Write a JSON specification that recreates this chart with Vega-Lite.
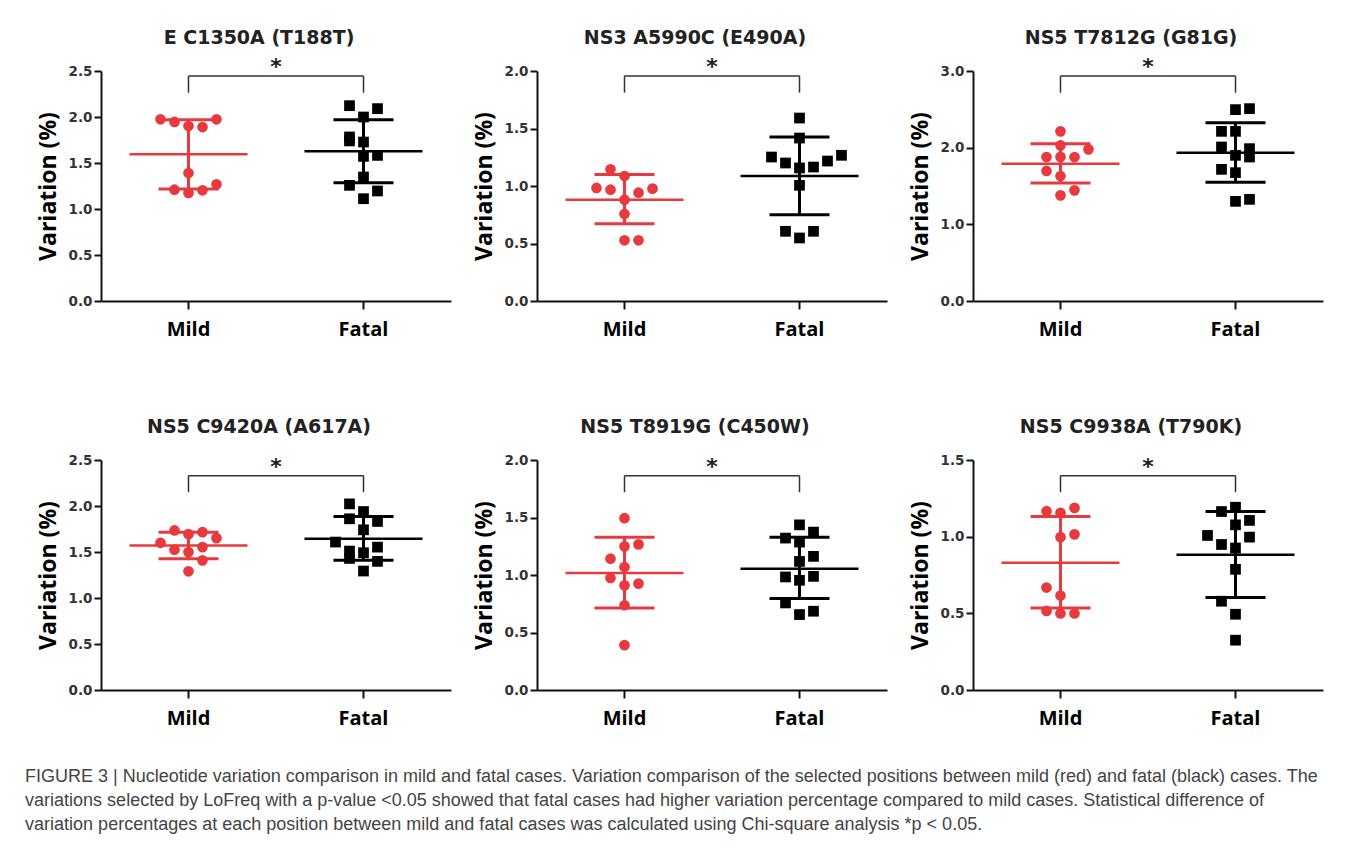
{
  "$schema": "https://vega.github.io/schema/vega-lite/v6.json",
  "background": "white",
  "padding": {"left": 25, "top": 28, "right": 5, "bottom": 5},
  "config": {
    "view": {"stroke": null},
    "axis": {"grid": false, "domainColor": "#111", "domainWidth": 2, "tickColor": "#111", "tickWidth": 2, "labelFont": "DejaVu Sans", "labelFontWeight": "bold", "labelFontSize": 13.5, "labelColor": "#333"},
    "axisX": {"labelFont": "Open Sans", "labelFontSize": 20, "labelColor": "#000", "tickSize": 8, "labelPadding": 10, "labelAngle": 0},
    "axisY": {"tickSize": 7, "labelPadding": 2, "titleFont": "Open Sans", "titleFontSize": 23, "titleFontWeight": "bold", "titleColor": "#000", "titlePadding": 8},
    "title": {"font": "DejaVu Sans", "fontSize": 19, "fontWeight": "bold", "color": "#222", "offset": 12, "dx": -17, "anchor": "middle", "frame": "group"}
  },
  "datasets": {
    "points": [
      {"site": "E C1350A (T188T)", "group": "Mild", "slot": -2, "value": 1.975},
      {"site": "E C1350A (T188T)", "group": "Mild", "slot": -1, "value": 1.946},
      {"site": "E C1350A (T188T)", "group": "Mild", "slot": 0, "value": 1.902},
      {"site": "E C1350A (T188T)", "group": "Mild", "slot": 1, "value": 1.891},
      {"site": "E C1350A (T188T)", "group": "Mild", "slot": 2, "value": 1.975},
      {"site": "E C1350A (T188T)", "group": "Mild", "slot": 0, "value": 1.391},
      {"site": "E C1350A (T188T)", "group": "Mild", "slot": 2, "value": 1.268},
      {"site": "E C1350A (T188T)", "group": "Mild", "slot": -1, "value": 1.21},
      {"site": "E C1350A (T188T)", "group": "Mild", "slot": 0, "value": 1.174},
      {"site": "E C1350A (T188T)", "group": "Mild", "slot": 1, "value": 1.203},
      {"site": "E C1350A (T188T)", "group": "Fatal", "slot": -1, "value": 2.123},
      {"site": "E C1350A (T188T)", "group": "Fatal", "slot": 1, "value": 2.091},
      {"site": "E C1350A (T188T)", "group": "Fatal", "slot": 0, "value": 2.0},
      {"site": "E C1350A (T188T)", "group": "Fatal", "slot": -1, "value": 1.783},
      {"site": "E C1350A (T188T)", "group": "Fatal", "slot": -1, "value": 1.74},
      {"site": "E C1350A (T188T)", "group": "Fatal", "slot": 0, "value": 1.728},
      {"site": "E C1350A (T188T)", "group": "Fatal", "slot": 0, "value": 1.572},
      {"site": "E C1350A (T188T)", "group": "Fatal", "slot": 1, "value": 1.583},
      {"site": "E C1350A (T188T)", "group": "Fatal", "slot": 0, "value": 1.348},
      {"site": "E C1350A (T188T)", "group": "Fatal", "slot": -1, "value": 1.257},
      {"site": "E C1350A (T188T)", "group": "Fatal", "slot": 1, "value": 1.196},
      {"site": "E C1350A (T188T)", "group": "Fatal", "slot": 0, "value": 1.112},
      {"site": "NS3 A5990C (E490A)", "group": "Mild", "slot": -1, "value": 1.145},
      {"site": "NS3 A5990C (E490A)", "group": "Mild", "slot": 0, "value": 1.087},
      {"site": "NS3 A5990C (E490A)", "group": "Mild", "slot": -2, "value": 0.983},
      {"site": "NS3 A5990C (E490A)", "group": "Mild", "slot": -1, "value": 0.968},
      {"site": "NS3 A5990C (E490A)", "group": "Mild", "slot": 0, "value": 0.881},
      {"site": "NS3 A5990C (E490A)", "group": "Mild", "slot": 1, "value": 0.942},
      {"site": "NS3 A5990C (E490A)", "group": "Mild", "slot": 2, "value": 0.977},
      {"site": "NS3 A5990C (E490A)", "group": "Mild", "slot": 0, "value": 0.757},
      {"site": "NS3 A5990C (E490A)", "group": "Mild", "slot": 0, "value": 0.528},
      {"site": "NS3 A5990C (E490A)", "group": "Mild", "slot": 1, "value": 0.528},
      {"site": "NS3 A5990C (E490A)", "group": "Fatal", "slot": 0, "value": 1.591},
      {"site": "NS3 A5990C (E490A)", "group": "Fatal", "slot": 0, "value": 1.417},
      {"site": "NS3 A5990C (E490A)", "group": "Fatal", "slot": -2, "value": 1.252},
      {"site": "NS3 A5990C (E490A)", "group": "Fatal", "slot": -1, "value": 1.2},
      {"site": "NS3 A5990C (E490A)", "group": "Fatal", "slot": 0, "value": 1.157},
      {"site": "NS3 A5990C (E490A)", "group": "Fatal", "slot": 1, "value": 1.165},
      {"site": "NS3 A5990C (E490A)", "group": "Fatal", "slot": 2, "value": 1.217},
      {"site": "NS3 A5990C (E490A)", "group": "Fatal", "slot": 3, "value": 1.267},
      {"site": "NS3 A5990C (E490A)", "group": "Fatal", "slot": 0, "value": 1.006},
      {"site": "NS3 A5990C (E490A)", "group": "Fatal", "slot": -1, "value": 0.606},
      {"site": "NS3 A5990C (E490A)", "group": "Fatal", "slot": 0, "value": 0.548},
      {"site": "NS3 A5990C (E490A)", "group": "Fatal", "slot": 1, "value": 0.606},
      {"site": "NS5 T7812G (G81G)", "group": "Mild", "slot": 0, "value": 2.213},
      {"site": "NS5 T7812G (G81G)", "group": "Mild", "slot": 2, "value": 1.978},
      {"site": "NS5 T7812G (G81G)", "group": "Mild", "slot": -1, "value": 1.878},
      {"site": "NS5 T7812G (G81G)", "group": "Mild", "slot": 1, "value": 1.878},
      {"site": "NS5 T7812G (G81G)", "group": "Mild", "slot": 0, "value": 2.03},
      {"site": "NS5 T7812G (G81G)", "group": "Mild", "slot": 0, "value": 1.88},
      {"site": "NS5 T7812G (G81G)", "group": "Mild", "slot": -1, "value": 1.696},
      {"site": "NS5 T7812G (G81G)", "group": "Mild", "slot": 0, "value": 1.63},
      {"site": "NS5 T7812G (G81G)", "group": "Mild", "slot": 1, "value": 1.443},
      {"site": "NS5 T7812G (G81G)", "group": "Mild", "slot": 0, "value": 1.378},
      {"site": "NS5 T7812G (G81G)", "group": "Fatal", "slot": 0, "value": 2.496},
      {"site": "NS5 T7812G (G81G)", "group": "Fatal", "slot": 1, "value": 2.509},
      {"site": "NS5 T7812G (G81G)", "group": "Fatal", "slot": -1, "value": 2.213},
      {"site": "NS5 T7812G (G81G)", "group": "Fatal", "slot": 0, "value": 2.213},
      {"site": "NS5 T7812G (G81G)", "group": "Fatal", "slot": -1, "value": 2.009},
      {"site": "NS5 T7812G (G81G)", "group": "Fatal", "slot": 1, "value": 1.987},
      {"site": "NS5 T7812G (G81G)", "group": "Fatal", "slot": 1, "value": 1.878},
      {"site": "NS5 T7812G (G81G)", "group": "Fatal", "slot": 0, "value": 1.9},
      {"site": "NS5 T7812G (G81G)", "group": "Fatal", "slot": -1, "value": 1.717},
      {"site": "NS5 T7812G (G81G)", "group": "Fatal", "slot": 0, "value": 1.674},
      {"site": "NS5 T7812G (G81G)", "group": "Fatal", "slot": 0, "value": 1.3},
      {"site": "NS5 T7812G (G81G)", "group": "Fatal", "slot": 1, "value": 1.326},
      {"site": "NS5 C9420A (A617A)", "group": "Mild", "slot": -1, "value": 1.734},
      {"site": "NS5 C9420A (A617A)", "group": "Mild", "slot": 1, "value": 1.716},
      {"site": "NS5 C9420A (A617A)", "group": "Mild", "slot": 0, "value": 1.694},
      {"site": "NS5 C9420A (A617A)", "group": "Mild", "slot": 2, "value": 1.651},
      {"site": "NS5 C9420A (A617A)", "group": "Mild", "slot": -2, "value": 1.6},
      {"site": "NS5 C9420A (A617A)", "group": "Mild", "slot": 1, "value": 1.553},
      {"site": "NS5 C9420A (A617A)", "group": "Mild", "slot": -1, "value": 1.525},
      {"site": "NS5 C9420A (A617A)", "group": "Mild", "slot": 0, "value": 1.499},
      {"site": "NS5 C9420A (A617A)", "group": "Mild", "slot": 1, "value": 1.409},
      {"site": "NS5 C9420A (A617A)", "group": "Mild", "slot": 0, "value": 1.29},
      {"site": "NS5 C9420A (A617A)", "group": "Fatal", "slot": -1, "value": 2.023},
      {"site": "NS5 C9420A (A617A)", "group": "Fatal", "slot": 0, "value": 1.94},
      {"site": "NS5 C9420A (A617A)", "group": "Fatal", "slot": 1, "value": 1.832},
      {"site": "NS5 C9420A (A617A)", "group": "Fatal", "slot": -1, "value": 1.861},
      {"site": "NS5 C9420A (A617A)", "group": "Fatal", "slot": 0, "value": 1.741},
      {"site": "NS5 C9420A (A617A)", "group": "Fatal", "slot": -2, "value": 1.608},
      {"site": "NS5 C9420A (A617A)", "group": "Fatal", "slot": 1, "value": 1.553},
      {"site": "NS5 C9420A (A617A)", "group": "Fatal", "slot": -1, "value": 1.51},
      {"site": "NS5 C9420A (A617A)", "group": "Fatal", "slot": 0, "value": 1.492},
      {"site": "NS5 C9420A (A617A)", "group": "Fatal", "slot": -1, "value": 1.43},
      {"site": "NS5 C9420A (A617A)", "group": "Fatal", "slot": 1, "value": 1.398},
      {"site": "NS5 C9420A (A617A)", "group": "Fatal", "slot": 0, "value": 1.293},
      {"site": "NS5 T8919G (C450W)", "group": "Mild", "slot": 0, "value": 1.494},
      {"site": "NS5 T8919G (C450W)", "group": "Mild", "slot": 1, "value": 1.266},
      {"site": "NS5 T8919G (C450W)", "group": "Mild", "slot": 0, "value": 1.249},
      {"site": "NS5 T8919G (C450W)", "group": "Mild", "slot": -1, "value": 1.142},
      {"site": "NS5 T8919G (C450W)", "group": "Mild", "slot": 0, "value": 1.069},
      {"site": "NS5 T8919G (C450W)", "group": "Mild", "slot": -1, "value": 0.974},
      {"site": "NS5 T8919G (C450W)", "group": "Mild", "slot": 0, "value": 0.91},
      {"site": "NS5 T8919G (C450W)", "group": "Mild", "slot": 1, "value": 0.925},
      {"site": "NS5 T8919G (C450W)", "group": "Mild", "slot": 0, "value": 0.737},
      {"site": "NS5 T8919G (C450W)", "group": "Mild", "slot": 0, "value": 0.39},
      {"site": "NS5 T8919G (C450W)", "group": "Fatal", "slot": 0, "value": 1.436},
      {"site": "NS5 T8919G (C450W)", "group": "Fatal", "slot": 1, "value": 1.373},
      {"site": "NS5 T8919G (C450W)", "group": "Fatal", "slot": -1, "value": 1.321},
      {"site": "NS5 T8919G (C450W)", "group": "Fatal", "slot": 0, "value": 1.286},
      {"site": "NS5 T8919G (C450W)", "group": "Fatal", "slot": 1, "value": 1.162},
      {"site": "NS5 T8919G (C450W)", "group": "Fatal", "slot": 0, "value": 1.118},
      {"site": "NS5 T8919G (C450W)", "group": "Fatal", "slot": -1, "value": 0.983},
      {"site": "NS5 T8919G (C450W)", "group": "Fatal", "slot": 1, "value": 0.988},
      {"site": "NS5 T8919G (C450W)", "group": "Fatal", "slot": 0, "value": 0.954},
      {"site": "NS5 T8919G (C450W)", "group": "Fatal", "slot": -1, "value": 0.757},
      {"site": "NS5 T8919G (C450W)", "group": "Fatal", "slot": 0, "value": 0.656},
      {"site": "NS5 T8919G (C450W)", "group": "Fatal", "slot": 1, "value": 0.685},
      {"site": "NS5 C9938A (T790K)", "group": "Mild", "slot": -1, "value": 1.166},
      {"site": "NS5 C9938A (T790K)", "group": "Mild", "slot": 0, "value": 1.155},
      {"site": "NS5 C9938A (T790K)", "group": "Mild", "slot": 1, "value": 1.188},
      {"site": "NS5 C9938A (T790K)", "group": "Mild", "slot": 0, "value": 0.997},
      {"site": "NS5 C9938A (T790K)", "group": "Mild", "slot": 1, "value": 1.015},
      {"site": "NS5 C9938A (T790K)", "group": "Mild", "slot": -1, "value": 0.668},
      {"site": "NS5 C9938A (T790K)", "group": "Mild", "slot": 0, "value": 0.616},
      {"site": "NS5 C9938A (T790K)", "group": "Mild", "slot": -1, "value": 0.516},
      {"site": "NS5 C9938A (T790K)", "group": "Mild", "slot": 0, "value": 0.499},
      {"site": "NS5 C9938A (T790K)", "group": "Mild", "slot": 1, "value": 0.499},
      {"site": "NS5 C9938A (T790K)", "group": "Fatal", "slot": 0, "value": 1.192},
      {"site": "NS5 C9938A (T790K)", "group": "Fatal", "slot": -1, "value": 1.164},
      {"site": "NS5 C9938A (T790K)", "group": "Fatal", "slot": 1, "value": 1.106},
      {"site": "NS5 C9938A (T790K)", "group": "Fatal", "slot": 0, "value": 1.077},
      {"site": "NS5 C9938A (T790K)", "group": "Fatal", "slot": -2, "value": 1.008},
      {"site": "NS5 C9938A (T790K)", "group": "Fatal", "slot": 1, "value": 0.997},
      {"site": "NS5 C9938A (T790K)", "group": "Fatal", "slot": -1, "value": 0.949},
      {"site": "NS5 C9938A (T790K)", "group": "Fatal", "slot": 0, "value": 0.926},
      {"site": "NS5 C9938A (T790K)", "group": "Fatal", "slot": 0, "value": 0.787},
      {"site": "NS5 C9938A (T790K)", "group": "Fatal", "slot": -1, "value": 0.579},
      {"site": "NS5 C9938A (T790K)", "group": "Fatal", "slot": 0, "value": 0.494},
      {"site": "NS5 C9938A (T790K)", "group": "Fatal", "slot": 0, "value": 0.325}
    ],
    "stats": [
      {"site": "E C1350A (T188T)", "group": "Mild", "mean": 1.594, "lo": 1.218, "hi": 1.97},
      {"site": "E C1350A (T188T)", "group": "Fatal", "mean": 1.627, "lo": 1.285, "hi": 1.969},
      {"site": "NS3 A5990C (E490A)", "group": "Mild", "mean": 0.881, "lo": 0.672, "hi": 1.099},
      {"site": "NS3 A5990C (E490A)", "group": "Fatal", "mean": 1.087, "lo": 0.751, "hi": 1.426},
      {"site": "NS5 T7812G (G81G)", "group": "Mild", "mean": 1.791, "lo": 1.539, "hi": 2.052},
      {"site": "NS5 T7812G (G81G)", "group": "Fatal", "mean": 1.935, "lo": 1.548, "hi": 2.326},
      {"site": "NS5 C9420A (A617A)", "group": "Mild", "mean": 1.572, "lo": 1.427, "hi": 1.716},
      {"site": "NS5 C9420A (A617A)", "group": "Fatal", "mean": 1.644, "lo": 1.409, "hi": 1.886},
      {"site": "NS5 T8919G (C450W)", "group": "Mild", "mean": 1.017, "lo": 0.714, "hi": 1.329},
      {"site": "NS5 T8919G (C450W)", "group": "Fatal", "mean": 1.055, "lo": 0.795, "hi": 1.329},
      {"site": "NS5 C9938A (T790K)", "group": "Mild", "mean": 0.83, "lo": 0.535, "hi": 1.132},
      {"site": "NS5 C9938A (T790K)", "group": "Fatal", "mean": 0.882, "lo": 0.603, "hi": 1.164}
    ],
    "brackets": [
      {"site": "E C1350A (T188T)", "a": "Mild", "b": "Fatal", "m": "mid", "top": 2.446, "bot": 2.264, "star": 2.58},
      {"site": "NS3 A5990C (E490A)", "a": "Mild", "b": "Fatal", "m": "mid", "top": 1.957, "bot": 1.812, "star": 2.064},
      {"site": "NS5 T7812G (G81G)", "a": "Mild", "b": "Fatal", "m": "mid", "top": 2.935, "bot": 2.717, "star": 3.096},
      {"site": "NS5 C9420A (A617A)", "a": "Mild", "b": "Fatal", "m": "mid", "top": 2.33, "bot": 2.15, "star": 2.457},
      {"site": "NS5 T8919G (C450W)", "a": "Mild", "b": "Fatal", "m": "mid", "top": 1.864, "bot": 1.72, "star": 1.965},
      {"site": "NS5 C9938A (T790K)", "a": "Mild", "b": "Fatal", "m": "mid", "top": 1.398, "bot": 1.29, "star": 1.474}
    ]
  },
  "title": {
    "text": [
      "FIGURE 3 | Nucleotide variation comparison in mild and fatal cases. Variation comparison of the selected positions between mild (red) and fatal (black) cases. The",
      "variations selected by LoFreq with a p-value <0.05 showed that fatal cases had higher variation percentage compared to mild cases. Statistical difference of",
      "variation percentages at each position between mild and fatal cases was calculated using Chi-square analysis *p < 0.05."
    ],
    "orient": "bottom", "anchor": "start", "frame": "bounds", "dx": -12, "offset": 40,
    "font": "Liberation Sans", "fontSize": 18, "fontWeight": "normal", "color": "#444", "lineHeight": 24, "align": "left"
  },
  "concat": [
    {
      "width": 350, "height": 230,
      "title": {"text": "E C1350A (T188T)", "offset": 8},
      "layer": [
        {"data": {"name": "brackets"}, "transform": [{"filter": {"field": "site", "equal": "E C1350A (T188T)"}}], "mark": {"type": "rule", "color": "#333", "strokeWidth": 1.5},
         "encoding": {"x": {"field": "a", "type": "nominal", "scale": {"type": "band", "domain": ["Mild", "mid", "Fatal"], "paddingInner": 0, "paddingOuter": 0.5}, "axis": {"values": ["Mild", "Fatal"], "title": null}}, "x2": {"field": "b"},
                      "y": {"field": "top", "type": "quantitative", "scale": {"domain": [0, 2.5], "nice": false}, "axis": {"title": "Variation (%)", "values": [0, 0.5, 1, 1.5, 2, 2.5], "format": ".1f"}}}},
        {"data": {"name": "brackets"}, "transform": [{"filter": {"field": "site", "equal": "E C1350A (T188T)"}}], "mark": {"type": "rule", "color": "#333", "strokeWidth": 1.5},
         "encoding": {"x": {"field": "a", "type": "nominal"}, "y": {"field": "top", "type": "quantitative"}, "y2": {"field": "bot"}}},
        {"data": {"name": "brackets"}, "transform": [{"filter": {"field": "site", "equal": "E C1350A (T188T)"}}], "mark": {"type": "rule", "color": "#333", "strokeWidth": 1.5},
         "encoding": {"x": {"field": "b", "type": "nominal"}, "y": {"field": "top", "type": "quantitative"}, "y2": {"field": "bot"}}},
        {"data": {"name": "brackets"}, "transform": [{"filter": {"field": "site", "equal": "E C1350A (T188T)"}}], "mark": {"type": "text", "text": "*", "font": "DejaVu Sans", "fontWeight": "bold", "fontSize": 22, "color": "#222", "baseline": "middle", "dy": 3},
         "encoding": {"x": {"field": "m", "type": "nominal"}, "y": {"field": "star", "type": "quantitative"}}},
        {"data": {"name": "stats"}, "transform": [{"filter": {"field": "site", "equal": "E C1350A (T188T)"}}], "mark": {"type": "rule", "strokeWidth": 3},
         "encoding": {"x": {"field": "group", "type": "nominal"}, "y": {"field": "lo", "type": "quantitative"}, "y2": {"field": "hi"}, "color": {"field": "group", "type": "nominal", "scale": {"domain": ["Mild", "Fatal"], "range": ["#e63a3f", "#000000"]}, "legend": null}}},
        {"data": {"name": "stats"}, "transform": [{"filter": {"field": "site", "equal": "E C1350A (T188T)"}}], "mark": {"type": "tick", "size": 60, "thickness": 3, "opacity": 1},
         "encoding": {"x": {"field": "group", "type": "nominal"}, "y": {"field": "lo", "type": "quantitative"}, "color": {"field": "group", "type": "nominal", "legend": null}}},
        {"data": {"name": "stats"}, "transform": [{"filter": {"field": "site", "equal": "E C1350A (T188T)"}}], "mark": {"type": "tick", "size": 60, "thickness": 3, "opacity": 1},
         "encoding": {"x": {"field": "group", "type": "nominal"}, "y": {"field": "hi", "type": "quantitative"}, "color": {"field": "group", "type": "nominal", "legend": null}}},
        {"data": {"name": "stats"}, "transform": [{"filter": {"field": "site", "equal": "E C1350A (T188T)"}}], "mark": {"type": "tick", "size": 118, "thickness": 2.5, "opacity": 1},
         "encoding": {"x": {"field": "group", "type": "nominal"}, "y": {"field": "mean", "type": "quantitative"}, "color": {"field": "group", "type": "nominal", "legend": null}}},
        {"data": {"name": "points"}, "transform": [{"filter": {"field": "site", "equal": "E C1350A (T188T)"}}], "mark": {"type": "point", "filled": true, "opacity": 1, "size": 115},
         "encoding": {"x": {"field": "group", "type": "nominal"}, "xOffset": {"field": "slot", "type": "ordinal", "scale": {"type": "point", "domain": [-3, -2, -1, 0, 1, 2, 3], "padding": 0.125}}, "y": {"field": "value", "type": "quantitative"}, "color": {"field": "group", "type": "nominal", "legend": null}, "shape": {"field": "group", "type": "nominal", "scale": {"domain": ["Mild", "Fatal"], "range": ["circle", "square"]}, "legend": null}}}
      ]
    },
    {
      "width": 350, "height": 230,
      "title": {"text": "NS3 A5990C (E490A)", "offset": 8},
      "layer": [
        {"data": {"name": "brackets"}, "transform": [{"filter": {"field": "site", "equal": "NS3 A5990C (E490A)"}}], "mark": {"type": "rule", "color": "#333", "strokeWidth": 1.5},
         "encoding": {"x": {"field": "a", "type": "nominal", "scale": {"type": "band", "domain": ["Mild", "mid", "Fatal"], "paddingInner": 0, "paddingOuter": 0.5}, "axis": {"values": ["Mild", "Fatal"], "title": null}}, "x2": {"field": "b"},
                      "y": {"field": "top", "type": "quantitative", "scale": {"domain": [0, 2.0], "nice": false}, "axis": {"title": "Variation (%)", "values": [0, 0.5, 1, 1.5, 2], "format": ".1f"}}}},
        {"data": {"name": "brackets"}, "transform": [{"filter": {"field": "site", "equal": "NS3 A5990C (E490A)"}}], "mark": {"type": "rule", "color": "#333", "strokeWidth": 1.5},
         "encoding": {"x": {"field": "a", "type": "nominal"}, "y": {"field": "top", "type": "quantitative"}, "y2": {"field": "bot"}}},
        {"data": {"name": "brackets"}, "transform": [{"filter": {"field": "site", "equal": "NS3 A5990C (E490A)"}}], "mark": {"type": "rule", "color": "#333", "strokeWidth": 1.5},
         "encoding": {"x": {"field": "b", "type": "nominal"}, "y": {"field": "top", "type": "quantitative"}, "y2": {"field": "bot"}}},
        {"data": {"name": "brackets"}, "transform": [{"filter": {"field": "site", "equal": "NS3 A5990C (E490A)"}}], "mark": {"type": "text", "text": "*", "font": "DejaVu Sans", "fontWeight": "bold", "fontSize": 22, "color": "#222", "baseline": "middle", "dy": 3},
         "encoding": {"x": {"field": "m", "type": "nominal"}, "y": {"field": "star", "type": "quantitative"}}},
        {"data": {"name": "stats"}, "transform": [{"filter": {"field": "site", "equal": "NS3 A5990C (E490A)"}}], "mark": {"type": "rule", "strokeWidth": 3},
         "encoding": {"x": {"field": "group", "type": "nominal"}, "y": {"field": "lo", "type": "quantitative"}, "y2": {"field": "hi"}, "color": {"field": "group", "type": "nominal", "scale": {"domain": ["Mild", "Fatal"], "range": ["#e63a3f", "#000000"]}, "legend": null}}},
        {"data": {"name": "stats"}, "transform": [{"filter": {"field": "site", "equal": "NS3 A5990C (E490A)"}}], "mark": {"type": "tick", "size": 60, "thickness": 3, "opacity": 1},
         "encoding": {"x": {"field": "group", "type": "nominal"}, "y": {"field": "lo", "type": "quantitative"}, "color": {"field": "group", "type": "nominal", "legend": null}}},
        {"data": {"name": "stats"}, "transform": [{"filter": {"field": "site", "equal": "NS3 A5990C (E490A)"}}], "mark": {"type": "tick", "size": 60, "thickness": 3, "opacity": 1},
         "encoding": {"x": {"field": "group", "type": "nominal"}, "y": {"field": "hi", "type": "quantitative"}, "color": {"field": "group", "type": "nominal", "legend": null}}},
        {"data": {"name": "stats"}, "transform": [{"filter": {"field": "site", "equal": "NS3 A5990C (E490A)"}}], "mark": {"type": "tick", "size": 118, "thickness": 2.5, "opacity": 1},
         "encoding": {"x": {"field": "group", "type": "nominal"}, "y": {"field": "mean", "type": "quantitative"}, "color": {"field": "group", "type": "nominal", "legend": null}}},
        {"data": {"name": "points"}, "transform": [{"filter": {"field": "site", "equal": "NS3 A5990C (E490A)"}}], "mark": {"type": "point", "filled": true, "opacity": 1, "size": 115},
         "encoding": {"x": {"field": "group", "type": "nominal"}, "xOffset": {"field": "slot", "type": "ordinal", "scale": {"type": "point", "domain": [-3, -2, -1, 0, 1, 2, 3], "padding": 0.125}}, "y": {"field": "value", "type": "quantitative"}, "color": {"field": "group", "type": "nominal", "legend": null}, "shape": {"field": "group", "type": "nominal", "scale": {"domain": ["Mild", "Fatal"], "range": ["circle", "square"]}, "legend": null}}}
      ]
    },
    {
      "width": 350, "height": 230,
      "title": {"text": "NS5 T7812G (G81G)", "offset": 8},
      "layer": [
        {"data": {"name": "brackets"}, "transform": [{"filter": {"field": "site", "equal": "NS5 T7812G (G81G)"}}], "mark": {"type": "rule", "color": "#333", "strokeWidth": 1.5},
         "encoding": {"x": {"field": "a", "type": "nominal", "scale": {"type": "band", "domain": ["Mild", "mid", "Fatal"], "paddingInner": 0, "paddingOuter": 0.5}, "axis": {"values": ["Mild", "Fatal"], "title": null}}, "x2": {"field": "b"},
                      "y": {"field": "top", "type": "quantitative", "scale": {"domain": [0, 3.0], "nice": false}, "axis": {"title": "Variation (%)", "values": [0, 0.5, 1, 1.5, 2, 2.5, 3], "format": ".1f"}}}},
        {"data": {"name": "brackets"}, "transform": [{"filter": {"field": "site", "equal": "NS5 T7812G (G81G)"}}], "mark": {"type": "rule", "color": "#333", "strokeWidth": 1.5},
         "encoding": {"x": {"field": "a", "type": "nominal"}, "y": {"field": "top", "type": "quantitative"}, "y2": {"field": "bot"}}},
        {"data": {"name": "brackets"}, "transform": [{"filter": {"field": "site", "equal": "NS5 T7812G (G81G)"}}], "mark": {"type": "rule", "color": "#333", "strokeWidth": 1.5},
         "encoding": {"x": {"field": "b", "type": "nominal"}, "y": {"field": "top", "type": "quantitative"}, "y2": {"field": "bot"}}},
        {"data": {"name": "brackets"}, "transform": [{"filter": {"field": "site", "equal": "NS5 T7812G (G81G)"}}], "mark": {"type": "text", "text": "*", "font": "DejaVu Sans", "fontWeight": "bold", "fontSize": 22, "color": "#222", "baseline": "middle", "dy": 3},
         "encoding": {"x": {"field": "m", "type": "nominal"}, "y": {"field": "star", "type": "quantitative"}}},
        {"data": {"name": "stats"}, "transform": [{"filter": {"field": "site", "equal": "NS5 T7812G (G81G)"}}], "mark": {"type": "rule", "strokeWidth": 3},
         "encoding": {"x": {"field": "group", "type": "nominal"}, "y": {"field": "lo", "type": "quantitative"}, "y2": {"field": "hi"}, "color": {"field": "group", "type": "nominal", "scale": {"domain": ["Mild", "Fatal"], "range": ["#e63a3f", "#000000"]}, "legend": null}}},
        {"data": {"name": "stats"}, "transform": [{"filter": {"field": "site", "equal": "NS5 T7812G (G81G)"}}], "mark": {"type": "tick", "size": 60, "thickness": 3, "opacity": 1},
         "encoding": {"x": {"field": "group", "type": "nominal"}, "y": {"field": "lo", "type": "quantitative"}, "color": {"field": "group", "type": "nominal", "legend": null}}},
        {"data": {"name": "stats"}, "transform": [{"filter": {"field": "site", "equal": "NS5 T7812G (G81G)"}}], "mark": {"type": "tick", "size": 60, "thickness": 3, "opacity": 1},
         "encoding": {"x": {"field": "group", "type": "nominal"}, "y": {"field": "hi", "type": "quantitative"}, "color": {"field": "group", "type": "nominal", "legend": null}}},
        {"data": {"name": "stats"}, "transform": [{"filter": {"field": "site", "equal": "NS5 T7812G (G81G)"}}], "mark": {"type": "tick", "size": 118, "thickness": 2.5, "opacity": 1},
         "encoding": {"x": {"field": "group", "type": "nominal"}, "y": {"field": "mean", "type": "quantitative"}, "color": {"field": "group", "type": "nominal", "legend": null}}},
        {"data": {"name": "points"}, "transform": [{"filter": {"field": "site", "equal": "NS5 T7812G (G81G)"}}], "mark": {"type": "point", "filled": true, "opacity": 1, "size": 115},
         "encoding": {"x": {"field": "group", "type": "nominal"}, "xOffset": {"field": "slot", "type": "ordinal", "scale": {"type": "point", "domain": [-3, -2, -1, 0, 1, 2, 3], "padding": 0.125}}, "y": {"field": "value", "type": "quantitative"}, "color": {"field": "group", "type": "nominal", "legend": null}, "shape": {"field": "group", "type": "nominal", "scale": {"domain": ["Mild", "Fatal"], "range": ["circle", "square"]}, "legend": null}}}
      ]
    },
    {
      "width": 350, "height": 230,
      "title": {"text": "NS5 C9420A (A617A)", "offset": 16},
      "layer": [
        {"data": {"name": "brackets"}, "transform": [{"filter": {"field": "site", "equal": "NS5 C9420A (A617A)"}}], "mark": {"type": "rule", "color": "#333", "strokeWidth": 1.5},
         "encoding": {"x": {"field": "a", "type": "nominal", "scale": {"type": "band", "domain": ["Mild", "mid", "Fatal"], "paddingInner": 0, "paddingOuter": 0.5}, "axis": {"values": ["Mild", "Fatal"], "title": null}}, "x2": {"field": "b"},
                      "y": {"field": "top", "type": "quantitative", "scale": {"domain": [0, 2.5], "nice": false}, "axis": {"title": "Variation (%)", "values": [0, 0.5, 1, 1.5, 2, 2.5], "format": ".1f"}}}},
        {"data": {"name": "brackets"}, "transform": [{"filter": {"field": "site", "equal": "NS5 C9420A (A617A)"}}], "mark": {"type": "rule", "color": "#333", "strokeWidth": 1.5},
         "encoding": {"x": {"field": "a", "type": "nominal"}, "y": {"field": "top", "type": "quantitative"}, "y2": {"field": "bot"}}},
        {"data": {"name": "brackets"}, "transform": [{"filter": {"field": "site", "equal": "NS5 C9420A (A617A)"}}], "mark": {"type": "rule", "color": "#333", "strokeWidth": 1.5},
         "encoding": {"x": {"field": "b", "type": "nominal"}, "y": {"field": "top", "type": "quantitative"}, "y2": {"field": "bot"}}},
        {"data": {"name": "brackets"}, "transform": [{"filter": {"field": "site", "equal": "NS5 C9420A (A617A)"}}], "mark": {"type": "text", "text": "*", "font": "DejaVu Sans", "fontWeight": "bold", "fontSize": 22, "color": "#222", "baseline": "middle", "dy": 3},
         "encoding": {"x": {"field": "m", "type": "nominal"}, "y": {"field": "star", "type": "quantitative"}}},
        {"data": {"name": "stats"}, "transform": [{"filter": {"field": "site", "equal": "NS5 C9420A (A617A)"}}], "mark": {"type": "rule", "strokeWidth": 3},
         "encoding": {"x": {"field": "group", "type": "nominal"}, "y": {"field": "lo", "type": "quantitative"}, "y2": {"field": "hi"}, "color": {"field": "group", "type": "nominal", "scale": {"domain": ["Mild", "Fatal"], "range": ["#e63a3f", "#000000"]}, "legend": null}}},
        {"data": {"name": "stats"}, "transform": [{"filter": {"field": "site", "equal": "NS5 C9420A (A617A)"}}], "mark": {"type": "tick", "size": 60, "thickness": 3, "opacity": 1},
         "encoding": {"x": {"field": "group", "type": "nominal"}, "y": {"field": "lo", "type": "quantitative"}, "color": {"field": "group", "type": "nominal", "legend": null}}},
        {"data": {"name": "stats"}, "transform": [{"filter": {"field": "site", "equal": "NS5 C9420A (A617A)"}}], "mark": {"type": "tick", "size": 60, "thickness": 3, "opacity": 1},
         "encoding": {"x": {"field": "group", "type": "nominal"}, "y": {"field": "hi", "type": "quantitative"}, "color": {"field": "group", "type": "nominal", "legend": null}}},
        {"data": {"name": "stats"}, "transform": [{"filter": {"field": "site", "equal": "NS5 C9420A (A617A)"}}], "mark": {"type": "tick", "size": 118, "thickness": 2.5, "opacity": 1},
         "encoding": {"x": {"field": "group", "type": "nominal"}, "y": {"field": "mean", "type": "quantitative"}, "color": {"field": "group", "type": "nominal", "legend": null}}},
        {"data": {"name": "points"}, "transform": [{"filter": {"field": "site", "equal": "NS5 C9420A (A617A)"}}], "mark": {"type": "point", "filled": true, "opacity": 1, "size": 115},
         "encoding": {"x": {"field": "group", "type": "nominal"}, "xOffset": {"field": "slot", "type": "ordinal", "scale": {"type": "point", "domain": [-3, -2, -1, 0, 1, 2, 3], "padding": 0.125}}, "y": {"field": "value", "type": "quantitative"}, "color": {"field": "group", "type": "nominal", "legend": null}, "shape": {"field": "group", "type": "nominal", "scale": {"domain": ["Mild", "Fatal"], "range": ["circle", "square"]}, "legend": null}}}
      ]
    },
    {
      "width": 350, "height": 230,
      "title": {"text": "NS5 T8919G (C450W)", "offset": 16},
      "layer": [
        {"data": {"name": "brackets"}, "transform": [{"filter": {"field": "site", "equal": "NS5 T8919G (C450W)"}}], "mark": {"type": "rule", "color": "#333", "strokeWidth": 1.5},
         "encoding": {"x": {"field": "a", "type": "nominal", "scale": {"type": "band", "domain": ["Mild", "mid", "Fatal"], "paddingInner": 0, "paddingOuter": 0.5}, "axis": {"values": ["Mild", "Fatal"], "title": null}}, "x2": {"field": "b"},
                      "y": {"field": "top", "type": "quantitative", "scale": {"domain": [0, 2.0], "nice": false}, "axis": {"title": "Variation (%)", "values": [0, 0.5, 1, 1.5, 2], "format": ".1f"}}}},
        {"data": {"name": "brackets"}, "transform": [{"filter": {"field": "site", "equal": "NS5 T8919G (C450W)"}}], "mark": {"type": "rule", "color": "#333", "strokeWidth": 1.5},
         "encoding": {"x": {"field": "a", "type": "nominal"}, "y": {"field": "top", "type": "quantitative"}, "y2": {"field": "bot"}}},
        {"data": {"name": "brackets"}, "transform": [{"filter": {"field": "site", "equal": "NS5 T8919G (C450W)"}}], "mark": {"type": "rule", "color": "#333", "strokeWidth": 1.5},
         "encoding": {"x": {"field": "b", "type": "nominal"}, "y": {"field": "top", "type": "quantitative"}, "y2": {"field": "bot"}}},
        {"data": {"name": "brackets"}, "transform": [{"filter": {"field": "site", "equal": "NS5 T8919G (C450W)"}}], "mark": {"type": "text", "text": "*", "font": "DejaVu Sans", "fontWeight": "bold", "fontSize": 22, "color": "#222", "baseline": "middle", "dy": 3},
         "encoding": {"x": {"field": "m", "type": "nominal"}, "y": {"field": "star", "type": "quantitative"}}},
        {"data": {"name": "stats"}, "transform": [{"filter": {"field": "site", "equal": "NS5 T8919G (C450W)"}}], "mark": {"type": "rule", "strokeWidth": 3},
         "encoding": {"x": {"field": "group", "type": "nominal"}, "y": {"field": "lo", "type": "quantitative"}, "y2": {"field": "hi"}, "color": {"field": "group", "type": "nominal", "scale": {"domain": ["Mild", "Fatal"], "range": ["#e63a3f", "#000000"]}, "legend": null}}},
        {"data": {"name": "stats"}, "transform": [{"filter": {"field": "site", "equal": "NS5 T8919G (C450W)"}}], "mark": {"type": "tick", "size": 60, "thickness": 3, "opacity": 1},
         "encoding": {"x": {"field": "group", "type": "nominal"}, "y": {"field": "lo", "type": "quantitative"}, "color": {"field": "group", "type": "nominal", "legend": null}}},
        {"data": {"name": "stats"}, "transform": [{"filter": {"field": "site", "equal": "NS5 T8919G (C450W)"}}], "mark": {"type": "tick", "size": 60, "thickness": 3, "opacity": 1},
         "encoding": {"x": {"field": "group", "type": "nominal"}, "y": {"field": "hi", "type": "quantitative"}, "color": {"field": "group", "type": "nominal", "legend": null}}},
        {"data": {"name": "stats"}, "transform": [{"filter": {"field": "site", "equal": "NS5 T8919G (C450W)"}}], "mark": {"type": "tick", "size": 118, "thickness": 2.5, "opacity": 1},
         "encoding": {"x": {"field": "group", "type": "nominal"}, "y": {"field": "mean", "type": "quantitative"}, "color": {"field": "group", "type": "nominal", "legend": null}}},
        {"data": {"name": "points"}, "transform": [{"filter": {"field": "site", "equal": "NS5 T8919G (C450W)"}}], "mark": {"type": "point", "filled": true, "opacity": 1, "size": 115},
         "encoding": {"x": {"field": "group", "type": "nominal"}, "xOffset": {"field": "slot", "type": "ordinal", "scale": {"type": "point", "domain": [-3, -2, -1, 0, 1, 2, 3], "padding": 0.125}}, "y": {"field": "value", "type": "quantitative"}, "color": {"field": "group", "type": "nominal", "legend": null}, "shape": {"field": "group", "type": "nominal", "scale": {"domain": ["Mild", "Fatal"], "range": ["circle", "square"]}, "legend": null}}}
      ]
    },
    {
      "width": 350, "height": 230,
      "title": {"text": "NS5 C9938A (T790K)", "offset": 16},
      "layer": [
        {"data": {"name": "brackets"}, "transform": [{"filter": {"field": "site", "equal": "NS5 C9938A (T790K)"}}], "mark": {"type": "rule", "color": "#333", "strokeWidth": 1.5},
         "encoding": {"x": {"field": "a", "type": "nominal", "scale": {"type": "band", "domain": ["Mild", "mid", "Fatal"], "paddingInner": 0, "paddingOuter": 0.5}, "axis": {"values": ["Mild", "Fatal"], "title": null}}, "x2": {"field": "b"},
                      "y": {"field": "top", "type": "quantitative", "scale": {"domain": [0, 1.5], "nice": false}, "axis": {"title": "Variation (%)", "values": [0, 0.25, 0.5, 0.75, 1, 1.25, 1.5], "labelExpr": "datum.value % 0.5 == 0 ? format(datum.value, '.1f') : ''", "tickSize": {"condition": {"test": "datum.value % 0.5 != 0", "value": 4}, "value": 7}}}}},
        {"data": {"name": "brackets"}, "transform": [{"filter": {"field": "site", "equal": "NS5 C9938A (T790K)"}}], "mark": {"type": "rule", "color": "#333", "strokeWidth": 1.5},
         "encoding": {"x": {"field": "a", "type": "nominal"}, "y": {"field": "top", "type": "quantitative"}, "y2": {"field": "bot"}}},
        {"data": {"name": "brackets"}, "transform": [{"filter": {"field": "site", "equal": "NS5 C9938A (T790K)"}}], "mark": {"type": "rule", "color": "#333", "strokeWidth": 1.5},
         "encoding": {"x": {"field": "b", "type": "nominal"}, "y": {"field": "top", "type": "quantitative"}, "y2": {"field": "bot"}}},
        {"data": {"name": "brackets"}, "transform": [{"filter": {"field": "site", "equal": "NS5 C9938A (T790K)"}}], "mark": {"type": "text", "text": "*", "font": "DejaVu Sans", "fontWeight": "bold", "fontSize": 22, "color": "#222", "baseline": "middle", "dy": 3},
         "encoding": {"x": {"field": "m", "type": "nominal"}, "y": {"field": "star", "type": "quantitative"}}},
        {"data": {"name": "stats"}, "transform": [{"filter": {"field": "site", "equal": "NS5 C9938A (T790K)"}}], "mark": {"type": "rule", "strokeWidth": 3},
         "encoding": {"x": {"field": "group", "type": "nominal"}, "y": {"field": "lo", "type": "quantitative"}, "y2": {"field": "hi"}, "color": {"field": "group", "type": "nominal", "scale": {"domain": ["Mild", "Fatal"], "range": ["#e63a3f", "#000000"]}, "legend": null}}},
        {"data": {"name": "stats"}, "transform": [{"filter": {"field": "site", "equal": "NS5 C9938A (T790K)"}}], "mark": {"type": "tick", "size": 60, "thickness": 3, "opacity": 1},
         "encoding": {"x": {"field": "group", "type": "nominal"}, "y": {"field": "lo", "type": "quantitative"}, "color": {"field": "group", "type": "nominal", "legend": null}}},
        {"data": {"name": "stats"}, "transform": [{"filter": {"field": "site", "equal": "NS5 C9938A (T790K)"}}], "mark": {"type": "tick", "size": 60, "thickness": 3, "opacity": 1},
         "encoding": {"x": {"field": "group", "type": "nominal"}, "y": {"field": "hi", "type": "quantitative"}, "color": {"field": "group", "type": "nominal", "legend": null}}},
        {"data": {"name": "stats"}, "transform": [{"filter": {"field": "site", "equal": "NS5 C9938A (T790K)"}}], "mark": {"type": "tick", "size": 118, "thickness": 2.5, "opacity": 1},
         "encoding": {"x": {"field": "group", "type": "nominal"}, "y": {"field": "mean", "type": "quantitative"}, "color": {"field": "group", "type": "nominal", "legend": null}}},
        {"data": {"name": "points"}, "transform": [{"filter": {"field": "site", "equal": "NS5 C9938A (T790K)"}}], "mark": {"type": "point", "filled": true, "opacity": 1, "size": 115},
         "encoding": {"x": {"field": "group", "type": "nominal"}, "xOffset": {"field": "slot", "type": "ordinal", "scale": {"type": "point", "domain": [-3, -2, -1, 0, 1, 2, 3], "padding": 0.125}}, "y": {"field": "value", "type": "quantitative"}, "color": {"field": "group", "type": "nominal", "legend": null}, "shape": {"field": "group", "type": "nominal", "scale": {"domain": ["Mild", "Fatal"], "range": ["circle", "square"]}, "legend": null}}}
      ]
    }
  ],
  "columns": 3,
  "spacing": {"row": 79, "column": 22}
}
